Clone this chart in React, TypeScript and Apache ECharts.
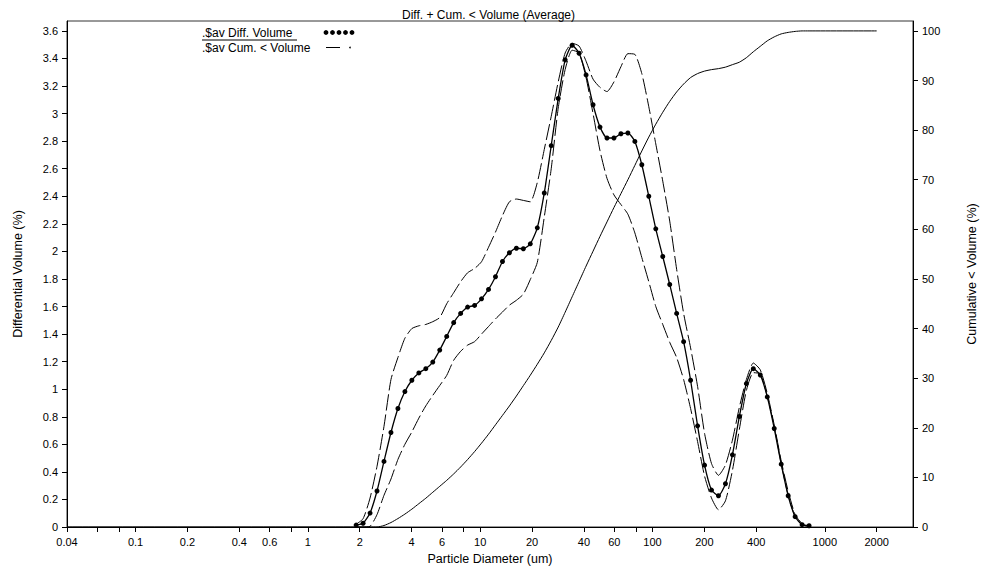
import React, { useEffect, useRef } from "react";
import * as echarts from "echarts";

// Particle size channels (um)
const sizes = [
  1.905, 2.091, 2.295, 2.519, 2.765, 3.035, 3.331, 3.656, 4.013, 4.405,
  4.835, 5.307, 5.825, 6.393, 7.017, 7.702, 8.454, 9.279, 10.18, 11.18,
  12.27, 13.47, 14.78, 16.22, 17.81, 19.54, 21.45, 23.55, 25.84, 28.37,
  31.13, 34.17, 37.51, 41.17, 45.19, 49.6, 54.44, 59.75, 65.58, 71.98,
  79.01, 86.72, 95.18, 104.5, 114.7, 125.9, 138.1, 151.6, 166.4, 182.7,
  200.5, 220.1, 241.5, 265.1, 291.0, 319.4, 350.6, 384.8, 422.3, 463.6,
  508.8, 558.5, 613.0, 672.8, 738.5, 810.6,
];

// Average differential volume (%)
const meanDiff = [
  0.014, 0.027, 0.101, 0.261, 0.476, 0.686, 0.86, 0.983, 1.065, 1.118,
  1.149, 1.197, 1.284, 1.383, 1.483, 1.55, 1.596, 1.608, 1.656, 1.724,
  1.816, 1.927, 1.99, 2.023, 2.019, 2.055, 2.171, 2.424, 2.767, 3.11,
  3.39, 3.496, 3.438, 3.281, 3.064, 2.902, 2.823, 2.823, 2.854, 2.859,
  2.798, 2.629, 2.4, 2.164, 1.963, 1.76, 1.55, 1.345, 1.065, 0.734,
  0.449, 0.268, 0.227, 0.314, 0.524, 0.802, 1.041, 1.149, 1.103, 0.944,
  0.715, 0.456, 0.227, 0.075, 0.017, 0.009,
];

// Upper envelope (%)
const upperDiff = [
  0.02, 0.06, 0.21, 0.44, 0.73, 1.07, 1.23, 1.37, 1.44, 1.46,
  1.47, 1.49, 1.52, 1.62, 1.7, 1.78, 1.845, 1.876, 1.925, 2.03,
  2.14, 2.26, 2.36, 2.38, 2.37, 2.36, 2.5, 2.74, 2.98, 3.23,
  3.44, 3.51, 3.49, 3.38, 3.25, 3.19, 3.16, 3.23, 3.34, 3.435,
  3.43, 3.29, 3.05, 2.78, 2.51, 2.22, 1.87, 1.55, 1.3, 1.02,
  0.68, 0.46, 0.375, 0.45, 0.63, 0.87, 1.07, 1.19, 1.14, 0.97,
  0.74, 0.48, 0.26, 0.09, 0.025, 0.01,
];

// Lower envelope (%)
const lowerDiff = [
  0, 0, 0.005, 0.09, 0.23, 0.348, 0.49, 0.6, 0.69, 0.79,
  0.879, 0.955, 1.027, 1.1, 1.21, 1.275, 1.32, 1.345, 1.4, 1.455,
  1.51, 1.56, 1.61, 1.645, 1.69, 1.796, 1.92, 2.25, 2.6, 3.04,
  3.32, 3.46, 3.44, 3.26, 3.0, 2.73, 2.53, 2.41, 2.34, 2.27,
  2.134, 1.955, 1.78, 1.6, 1.47, 1.34, 1.23, 1.07, 0.86, 0.62,
  0.37, 0.21, 0.125, 0.19, 0.41, 0.71, 0.99, 1.12, 1.11, 0.95,
  0.73, 0.46, 0.23, 0.075, 0.015, 0.005,
];

// Cumulative < volume (%)
const cumVolume = [
  0, 0, 0, 0, 0.3, 0.9, 1.7, 2.6, 3.6, 4.7,
  5.8, 7.0, 8.2, 9.4, 10.7, 12.1, 13.6, 15.2, 16.9, 18.7,
  20.6, 22.5, 24.4, 26.4, 28.5, 30.6, 32.8, 35.1, 37.6, 40.3,
  43.3, 46.4, 49.5, 52.6, 55.6, 58.6, 61.5, 64.4, 67.2, 70.0,
  72.9, 75.8, 78.6, 81.2, 83.6, 85.8, 87.7, 89.3, 90.6, 91.4,
  91.9, 92.2, 92.4, 92.7, 93.2, 93.7, 94.6, 95.8, 96.9, 98.0,
  98.8, 99.4, 99.7, 99.9, 100, 100,
];
const cumStart = [0.04, 0];
const cumEnd = [2000, 100];

const xMajorTicks = [0.04, 0.1, 0.2, 0.4, 0.6, 1, 2, 4, 6, 10, 20, 40, 60, 100, 200, 400, 1000, 2000];
const xMinorTicks = [0.06, 0.08, 0.8, 8, 80];
const leftTicks = [0, 0.2, 0.4, 0.6, 0.8, 1, 1.2, 1.4, 1.6, 1.8, 2, 2.2, 2.4, 2.6, 2.8, 3, 3.2, 3.4, 3.6];
const rightTicks = [0, 10, 20, 30, 40, 50, 60, 70, 80, 90, 100];

const FONT = "'Liberation Sans', Arial, Helvetica, sans-serif";

export default function App() {
  const ref = useRef<HTMLDivElement>(null);
  useEffect(() => {
    if (!ref.current) return;
    const chart = echarts.init(ref.current, null, { renderer: "svg" });
    const pair = (vals: number[]) => sizes.map((s, i) => [s, vals[i]]);
    const xMin = 0.04;
    const xMax = 3250;
    const fmtX = (v: number) => String(+Number(v).toPrecision(6));
    const fmtY = (v: number) => String(+Number(v).toFixed(2));
    const dotX = [326, 332.5, 339, 345.5, 352];
    const allXTicks = [...xMajorTicks, ...xMinorTicks].sort((a, b) => a - b);
    const option: any = {
      animation: false,
      backgroundColor: "#fff",
      textStyle: { fontFamily: FONT, color: "#000" },
      title: {
        text: "Diff. + Cum. < Volume (Average)",
        left: 397,
        top: 4,
        textStyle: { fontFamily: FONT, fontSize: 12, fontWeight: "normal", color: "#000" },
      },
      grid: {
        left: 67,
        right: 70,
        top: 21,
        bottom: 42,
        show: true,
        borderColor: "#333",
        borderWidth: 1,
        backgroundColor: "transparent",
      },
      xAxis: [
        {
          type: "log",
          logBase: 10,
          min: xMin,
          max: xMax,
          position: "bottom",
          name: "Particle Diameter (um)",
          nameLocation: "middle",
          nameGap: 25,
          nameTextStyle: { fontFamily: FONT, fontSize: 12.5, color: "#000" },
          axisLine: { show: true, lineStyle: { color: "#000", width: 1 } },
          axisTick: { show: true, length: 5, customValues: allXTicks, lineStyle: { color: "#000" } },
          axisLabel: {
            customValues: xMajorTicks,
            formatter: fmtX,
            fontFamily: FONT,
            fontSize: 11,
            color: "#000",
            margin: 9,
          },
          splitLine: { show: false },
          minorTick: { show: false },
        },
      ],
      yAxis: [
        {
          type: "value",
          min: 0,
          max: 3.672,
          position: "left",
          name: "Differential Volume (%)",
          nameLocation: "middle",
          nameGap: 43,
          nameRotate: 90,
          nameTextStyle: { fontFamily: FONT, fontSize: 12.5, color: "#000" },
          axisLine: { show: true, lineStyle: { color: "#000", width: 1 } },
          axisTick: { show: true, length: 5, customValues: leftTicks, lineStyle: { color: "#000" } },
          axisLabel: {
            customValues: leftTicks,
            formatter: fmtY,
            fontFamily: FONT,
            fontSize: 11,
            color: "#000",
            margin: 9,
          },
          splitLine: { show: false },
        },
        {
          type: "value",
          min: 0,
          max: 102.0,
          position: "right",
          name: "Cumulative < Volume (%)",
          nameLocation: "middle",
          nameGap: 52,
          nameRotate: 90,
          nameTextStyle: { fontFamily: FONT, fontSize: 12.5, color: "#000" },
          axisLine: { show: true, lineStyle: { color: "#000", width: 1 } },
          axisTick: { show: true, length: 5, customValues: rightTicks, lineStyle: { color: "#000" } },
          axisLabel: {
            customValues: rightTicks,
            formatter: fmtY,
            fontFamily: FONT,
            fontSize: 11,
            color: "#000",
            margin: 9,
          },
          splitLine: { show: false },
        },
      ],
      series: [
        {
          name: ".$av Cum. < Volume",
          type: "line",
          xAxisIndex: 0,
          yAxisIndex: 1,
          data: [cumStart, ...pair(cumVolume), cumEnd],
          showSymbol: false,
          smooth: 0.2,
          lineStyle: { color: "#000", width: 1 },
          z: 2,
        },
        {
          name: "Upper",
          type: "line",
          xAxisIndex: 0,
          yAxisIndex: 0,
          data: pair(upperDiff),
          showSymbol: false,
          smooth: 0.2,
          lineStyle: { color: "#000", width: 1, type: [16, 4] },
          z: 3,
        },
        {
          name: "Lower",
          type: "line",
          xAxisIndex: 0,
          yAxisIndex: 0,
          data: pair(lowerDiff),
          showSymbol: false,
          smooth: 0.2,
          lineStyle: { color: "#000", width: 1, type: [16, 4] },
          z: 3,
        },
        {
          name: ".$av Diff. Volume",
          type: "line",
          xAxisIndex: 0,
          yAxisIndex: 0,
          data: pair(meanDiff),
          symbol: "circle",
          symbolSize: 5,
          showAllSymbol: true,
          smooth: 0.2,
          itemStyle: { color: "#000" },
          lineStyle: { color: "#000", width: 1.3 },
          z: 4,
        },
      ],
      graphic: [
        {
          type: "text",
          left: 202,
          top: 27,
          style: { text: ".$av Diff. Volume", font: `12px ${FONT}`, fill: "#000" },
        },
        {
          type: "line",
          shape: { x1: 202, y1: 40, x2: 297, y2: 40 },
          style: { stroke: "#000", lineWidth: 1 },
        },
        ...dotX.map((cx) => ({
          type: "circle",
          shape: { cx, cy: 32.5, r: 2.4 },
          style: { fill: "#000" },
        })),
        {
          type: "text",
          left: 202,
          top: 42,
          style: { text: ".$av Cum. < Volume", font: `12px ${FONT}`, fill: "#000" },
        },
        {
          type: "line",
          shape: { x1: 326, y1: 47.5, x2: 340, y2: 47.5 },
          style: { stroke: "#000", lineWidth: 1 },
        },
        {
          type: "circle",
          shape: { cx: 350, cy: 47.5, r: 0.8 },
          style: { fill: "#000" },
        },
      ],
    };
    chart.setOption(option);
    return () => chart.dispose();
  }, []);
  return (
    <div
      ref={ref}
      style={{ position: "fixed", left: 0, top: 0, width: 986, height: 570, background: "#fff" }}
    />
  );
}
